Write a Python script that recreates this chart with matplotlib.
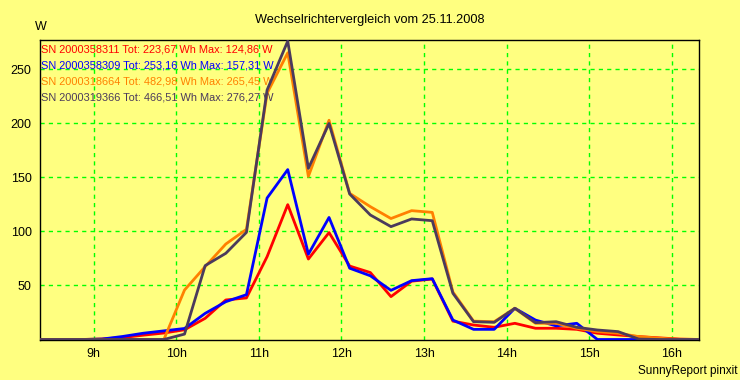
import numpy as np
import matplotlib
matplotlib.use("Agg")
import matplotlib.pyplot as plt

plt.rcParams['font.family'] = ['Liberation Sans', 'DejaVu Sans']

# 15-Minuten-Werte, Zeit in Stunden
t = [8.35 + 0.25 * k for k in range(33)]

sn_311 = [0, 0, 0, 0.5, 1.8, 4, 6, 9, 19.6, 36.6, 38.5, 76.7, 124.86, 74.5, 99, 68,
          62, 39.7, 54, 56, 17, 13.4, 11.3, 15, 10.4, 10.4, 9.4, 5.8, 4.2, 2.7, 1.5, 0.4, 0]
sn_309 = [0, 0, 0, 0.4, 2.8, 5.8, 8, 10.2, 24.2, 35, 41.5, 131, 157.31, 79, 113, 66,
          59, 45.5, 54.5, 56.3, 18, 9.4, 9.4, 28.9, 18, 12.6, 15, 0, 0, 0, 0, 0, 0]
sn_664 = [0, 0, 0, 0, 0, 0, 0, 45.8, 67.5, 88.4, 102, 228, 265.45, 151, 203, 135.3,
          123, 112, 119.3, 117.7, 44, 17, 16.5, 28.9, 15, 15, 10.4, 7.3, 5.8, 2.7, 1.2, 0, 0]
sn_366 = [0, 0, 0, 0, 0, 0, 0, 5, 68.4, 79.8, 99.2, 231, 276.27, 158.5, 200, 134.7,
          115.3, 104.5, 111.6, 110, 42.8, 16.5, 15.9, 28.9, 15.6, 16.5, 11.3, 8.8, 7.3, 0.4, 0, 0, 0]

labels = ["SN 2000358311 Tot: 223,67 Wh Max: 124,86 W",
          "SN 2000358309 Tot: 253,16 Wh Max: 157,31 W",
          "SN 2000318664 Tot: 482,98 Wh Max: 265,45 W",
          "SN 2000319366 Tot: 466,51 Wh Max: 276,27 W"]
colors = ["#ff0000", "#0000ff", "#ff8000", "#4b3a5c"]
hours = [9, 10, 11, 12, 13, 14, 15, 16]
yticks = [50, 100, 150, 200, 250]

bg = "#ffff80"
fig = plt.figure(figsize=(7.4, 3.8), dpi=100, facecolor=bg)
ax = fig.add_axes([40/740, 1 - 339.5/380, 659/740, 299.5/380])
ax.set_facecolor(bg)

for i, series in enumerate([sn_311, sn_309, sn_664, sn_366]):
    ax.plot(t, series, color=colors[i], linewidth=2, zorder=3 + i)
    ax.text(0.002, 0.969 - i * 0.0535, labels[i], color=colors[i], fontsize=7.9,
            transform=ax.transAxes, va='center', ha='left', zorder=2)

ax.set_xlim(8.35, 16.33)
ax.set_ylim(0, 277.3)
ax.set_xticks(hours)
ax.set_xticklabels([str(h) + "h" for h in hours])
ax.set_yticks(yticks)
ax.tick_params(length=0, labelsize=9, pad=6)
ax.grid(color="#00ff00", linestyle=(0, (3, 3)), linewidth=1, zorder=1)
for s in ax.spines.values():
    s.set_color("black")
    s.set_linewidth(1)

fig.text(0.5, 1 - 20/380, "Wechselrichtervergleich vom 25.11.2008", ha='center', va='center', fontsize=9.2)
fig.text(35/740, 1 - 27/380, "W", ha='left', va='center', fontsize=9)
fig.text(737/740, 1 - 371/380, "SunnyReport pinxit", ha='right', va='center', fontsize=8.5)

plt.savefig("out.png", dpi=100, facecolor=bg)
plt.close()
